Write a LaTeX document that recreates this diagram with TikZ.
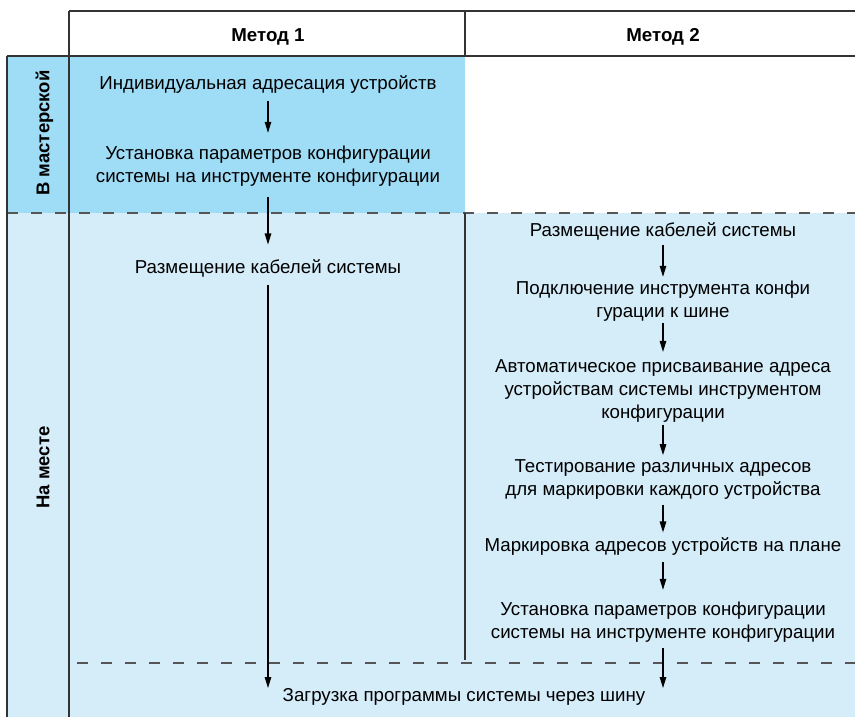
\documentclass[tikz,border=0pt]{standalone}
\usepackage{fontspec}
\setmainfont{Liberation Sans}
\usetikzlibrary{arrows.meta}
\definecolor{darkblue}{HTML}{9FDCF6}
\definecolor{lightblue}{HTML}{D5ECF9}
\definecolor{rule}{HTML}{333333}
\definecolor{dashc}{HTML}{555555}
\tikzset{
  txt/.style={align=center, font=\fontsize{18.7}{23}\selectfont, inner xsep=2pt, inner ysep=0pt},
  hdr/.style={font=\bfseries\fontsize{18.7}{22}\selectfont},
  side/.style={font=\bfseries\fontsize{18.5}{22}\selectfont, rotate=90},
  arr/.style={-{Triangle[length=11pt,width=6.5pt]}, line width=1.2pt, black},
  border/.style={line width=1.4pt, rule},
  sep/.style={line width=1.1pt, dashc, dash pattern=on 11pt off 13pt},
}
\begin{document}
\begin{tikzpicture}[x=1pt,y=-1pt]
\useasboundingbox (0,0) rectangle (855,717);
% fills
\fill[darkblue] (7,56) rectangle (465,213);
\fill[lightblue] (7,213) rectangle (855,717);
% dashed separators
\draw[sep] (7,213) -- (855,213);
\draw[sep] (77,663) -- (855,663);
% borders
\draw[border] (69,11) -- (855,11);
\draw[border] (7,56) -- (855,56);
\draw[border] (69,11) -- (69,717);
\draw[border] (7,56) -- (7,717);
\draw[border] (465,11) -- (465,56);
\draw[border] (465,213) -- (465,660);
% headers
\node[hdr] (h1) at (268,37) {Метод 1};
\node[hdr] (h2) at (663,37) {Метод 2};
\node[side] (r1) at (44.5,133) {В мастерской};
\node[side] (r2) at (43,467.5) {На месте};
% column 1
\node[txt] (a1) at (268,84.2) {Индивидуальная адресация устройств};
\node[txt] (a2) at (268,165.7) {Установка параметров конфигурации\\системы на инструменте конфигурации};
\node[txt] (a3) at (268,268) {Размещение кабелей системы};
\coordinate (e1) at (268,688);
% column 2
\node[txt] (b1) at (663,231) {Размещение кабелей системы};
\node[txt] (b2) at (663,300.7) {Подключение инструмента конфи\\гурации к шине};
\node[txt] (b3) at (663,391) {Автоматическое присваивание адреса\\устройствам системы инструментом\\конфигурации};
\node[txt] (b4) at (663,479.7) {Тестирование различных адресов\\для маркировки каждого устройства};
\node[txt] (b5) at (663,546) {Маркировка адресов устройств на плане};
\node[txt] (b6) at (663,621.7) {Установка параметров конфигурации\\системы на инструменте конфигурации};
\coordinate (e2) at (663,688);
% final
\node[txt] (fin) at (464,697) {Загрузка программы системы через шину};
% arrows
\draw[arr, shorten <=8pt, shorten >=12.5pt] (a1) -- (a2);
\draw[arr, shorten <=11pt, shorten >=14.5pt] (a2) -- (a3);
\draw[arr, shorten <=8pt] (a3) -- (e1);
\draw[arr, shorten <=5pt, shorten >=3.5pt] (b1) -- (b2);
\draw[arr, shorten <=2pt, shorten >=7.5pt] (b2) -- (b3);
\draw[arr, shorten <=2pt, shorten >=4.5pt] (b3) -- (b4);
\draw[arr, shorten <=5pt, shorten >=4.5pt] (b4) -- (b5);
\draw[arr, shorten <=7pt, shorten >=11.5pt] (b5) -- (b6);
\draw[arr, shorten <=6pt] (b6) -- (e2);
\end{tikzpicture}
\end{document}
